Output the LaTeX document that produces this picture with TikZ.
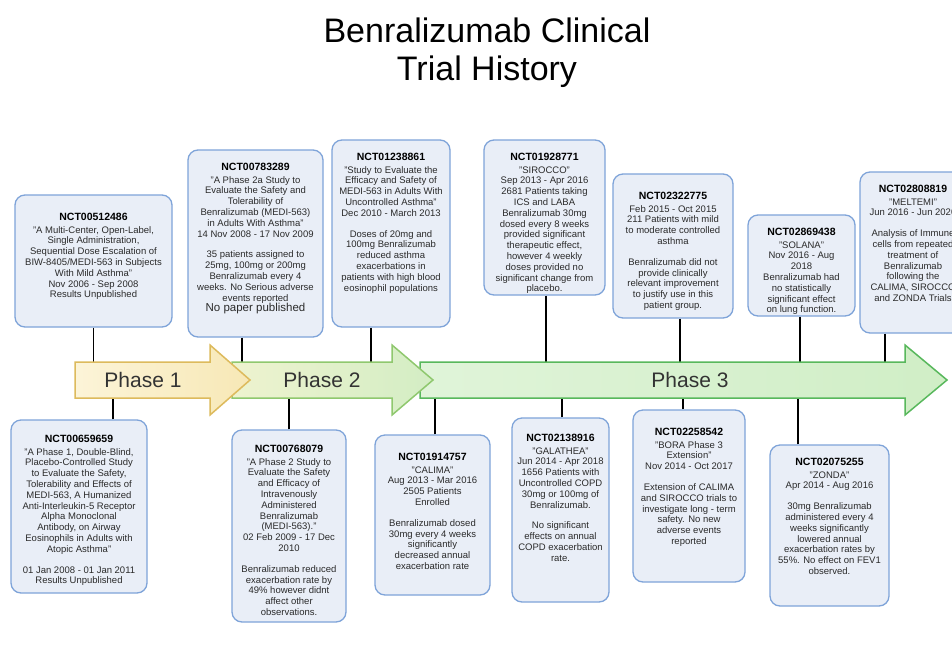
\documentclass[tikz,border=0pt]{standalone}
\usepackage{fontspec}
\setmainfont{Liberation Sans}

\definecolor{boxfill}{HTML}{E9EEF7}
\definecolor{boxline}{HTML}{7FA4D9}
\definecolor{bodytext}{HTML}{2A2A2A}
\definecolor{phasetext}{HTML}{333333}
\definecolor{oneline}{HTML}{DDBA5C}
\definecolor{onea}{HTML}{FCF4D8}
\definecolor{oneb}{HTML}{F7E8B6}
\definecolor{twoline}{HTML}{8FC86E}
\definecolor{twoa}{HTML}{EEF3CF}
\definecolor{twob}{HTML}{D3EDC4}
\definecolor{threeline}{HTML}{58B85C}
\definecolor{threea}{HTML}{E0F4D9}
\definecolor{threeb}{HTML}{D0EEC6}

\tikzset{
  trialbox/.style={draw=boxline, fill=boxfill, line width=1.3pt, rounded corners=10pt, inner sep=0pt},
  trialtext/.style={anchor=north, yshift=-14pt, inner sep=0pt, align=center, text=bodytext,
    font=\fontsize{9.5}{10.8}\selectfont},
  link/.style={line width=1.3pt, black},
  phaseone/.style={draw=oneline, line width=1.5pt, left color=onea, right color=oneb},
  phasetwo/.style={draw=twoline, line width=1.5pt, left color=twoa, right color=twob},
  phasethree/.style={draw=threeline, line width=1.5pt, left color=threea, right color=threeb},
  phaselabel/.style={font=\fontsize{21}{25}\selectfont, text=phasetext}
}
\newcommand{\nct}[1]{{\fontsize{10.5}{12}\selectfont\bfseries\color{black}#1}\\[1.5pt]}

\begin{document}
\begin{tikzpicture}[x=1pt, y=-1pt]
\useasboundingbox[fill=white] (0,0) rectangle (952,648);

\node[font=\fontsize{34}{38}\selectfont, align=center] (title) at (487,53)
  {Benralizumab Clinical\\Trial History};

\coordinate (bodytop) at (0,362);
\coordinate (bodybot) at (0,398);

% trials above the timeline
\node[trialbox, minimum width=157pt, minimum height=132pt] (t1) at (93.5,261) {};
\node[trialtext, yshift=-5pt] (t1-txt) at (t1.north) {\nct{NCT00512486}
  "A Multi-Center, Open-Label,\\ Single Administration,\\ Sequential Dose Escalation of\\
  BIW-8405/MEDI-563 in Subjects\\ With Mild Asthma"\\ Nov 2006 - Sep 2008\\ Results Unpublished};

\node[trialbox, minimum width=135pt, minimum height=187pt] (t2) at (255.5,243.5) {};
\node[trialtext] (t2-txt) at (t2.north) {\nct{NCT00783289}
  "A Phase 2a Study to\\ Evaluate the Safety and\\ Tolerability of\\ Benralizumab (MEDI-563)\\
  in Adults With Asthma"\\ 14 Nov 2008 - 17 Nov 2009\\[10pt]
  35 patients assigned to\\ 25mg, 100mg or 200mg\\ Benralizumab every 4\\
  weeks. No Serious adverse\\ events reported\\
  {\fontsize{11.5}{13}\selectfont No paper published}};

\node[trialbox, minimum width=118pt, minimum height=187pt] (t3) at (391,233.5) {};
\node[trialtext] (t3-txt) at (t3.north) {\nct{NCT01238861}
  "Study to Evaluate the\\ Efficacy and Safety of\\ MEDI-563 in Adults With\\
  Uncontrolled Asthma"\\ Dec 2010 - March 2013\\[10pt]
  Doses of 20mg and\\ 100mg Benralizumab\\ reduced asthma\\ exacerbations in\\
  patients with high blood\\ eosinophil populations};

\node[trialbox, minimum width=121pt, minimum height=155pt] (t4) at (544.5,217.5) {};
\node[trialtext] (t4-txt) at (t4.north) {\nct{NCT01928771}
  "SIROCCO"\\ Sep 2013 - Apr 2016\\ 2681 Patients taking\\ ICS and LABA\\
  Benralizumab 30mg\\ dosed every 8 weeks\\ provided significant\\ therapeutic effect,\\
  however 4 weekly\\ doses provided no\\ significant change from\\ placebo.};

\node[trialbox, minimum width=120pt, minimum height=144pt] (t5) at (673,246) {};
\node[trialtext, yshift=-5pt] (t5-txt) at (t5.north) {\nct{NCT02322775}
  Feb 2015 - Oct 2015\\ 211 Patients with mild\\ to moderate controlled\\ asthma\\[10pt]
  Benralizumab did not\\ provide clinically\\ relevant improvement\\ to justify use in this\\
  patient group.};

\node[trialbox, minimum width=107pt, minimum height=101pt] (t6) at (801.5,265.5) {};
\node[trialtext] (t6-txt) at (t6.north) {\nct{NCT02869438}
  "SOLANA"\\ Nov 2016 - Aug\\ 2018\\ Benralizumab had\\ no statistically\\
  significant effect\\ on lung function.};

\node[trialbox, minimum width=106pt, minimum height=161pt] (t7) at (913,252.5) {};
\node[trialtext] (t7-txt) at (t7.north) {\nct{NCT02808819}
  "MELTEMI"\\ Jun 2016 - Jun 2020\\[10pt]
  Analysis of Immune\\ cells from repeated\\ treatment of\\ Benralizumab\\ following the\\
  CALIMA, SIROCCO\\ and ZONDA Trials};

% trials below the timeline
\node[trialbox, minimum width=136pt, minimum height=173pt] (b1) at (79,506.5) {};
\node[trialtext, yshift=-2pt] (b1-txt) at (b1.north) {\nct{NCT00659659}
  "A Phase 1, Double-Blind,\\ Placebo-Controlled Study\\ to Evaluate the Safety,\\
  Tolerability and Effects of\\ MEDI-563, A Humanized\\ Anti-Interleukin-5 Receptor\\
  Alpha Monoclonal\\ Antibody, on Airway\\ Eosinophils in Adults with\\ Atopic Asthma"\\[10pt]
  01 Jan 2008 - 01 Jan 2011\\ Results Unpublished};

\node[trialbox, minimum width=114pt, minimum height=192pt] (b2) at (289,526) {};
\node[trialtext, yshift=-2pt] (b2-txt) at (b2.north) {\nct{NCT00768079}
  "A Phase 2 Study to\\ Evaluate the Safety\\ and Efficacy of\\ Intravenously\\
  Administered\\ Benralizumab\\ (MEDI-563)."\\ 02 Feb 2009 - 17 Dec\\ 2010\\[10pt]
  Benralizumab reduced\\ exacerbation rate by\\ 49\% however didnt\\ affect other\\ observations.};

\node[trialbox, minimum width=115pt, minimum height=160pt] (b3) at (432.5,515) {};
\node[trialtext, yshift=-5pt] (b3-txt) at (b3.north) {\nct{NCT01914757}
  "CALIMA"\\ Aug 2013 - Mar 2016\\ 2505 Patients\\ Enrolled\\[10pt]
  Benralizumab dosed\\ 30mg every 4 weeks\\ significantly\\ decreased annual\\ exacerbation rate};

\node[trialbox, minimum width=97pt, minimum height=184pt] (b4) at (560.5,510) {};
\node[trialtext, yshift=-3pt] (b4-txt) at (b4.north) {\nct{NCT02138916}
  "GALATHEA"\\ Jun 2014 - Apr 2018\\ 1656 Patients with\\ Uncontrolled COPD\\
  30mg or 100mg of\\ Benralizumab.\\[10pt]
  No significant\\ effects on annual\\ COPD exacerbation\\ rate.};

\node[trialbox, minimum width=112pt, minimum height=172pt] (b5) at (689,496) {};
\node[trialtext, yshift=-5pt] (b5-txt) at (b5.north) {\nct{NCT02258542}
  "BORA Phase 3\\ Extension"\\ Nov 2014 - Oct 2017\\[10pt]
  Extension of CALIMA\\ and SIROCCO trials to\\ investigate long - term\\
  safety. No new\\ adverse events\\ reported};

\node[trialbox, minimum width=119pt, minimum height=161pt] (b6) at (829.5,525.5) {};
\node[trialtext] (b6-txt) at (b6.north) {\nct{NCT02075255}
  "ZONDA"\\ Apr 2014 - Aug 2016\\[10pt]
  30mg Benralizumab\\ administered every 4\\ weeks significantly\\ lowered annual\\
  exacerbation rates by\\ 55\%. No effect on FEV1\\ observed.};

% connectors to the timeline
\foreach \b/\dx in {t1/0, t2/-13.5, t3/-20, t4/1.5, t5/7, t6/-1.5, t7/-28}
  \draw[link] (\b.south) ++(\dx,0) coordinate (\b-c) -- (\b-c |- bodytop);
\foreach \b/\dx in {b1/34, b2/0, b3/2.5, b4/1.5, b5/-6, b6/-31.5}
  \draw[link] (\b.north) ++(\dx,0) coordinate (\b-c) -- (\b-c |- bodybot);

% phase arrows, last one first
\draw[phasethree] (420,362) -- (905,362) -- (905,345) -- (947,380) -- (905,415)
  -- (905,398) -- (420,398) -- cycle;
\draw[phasetwo] (232,362) -- (392,362) -- (392,345) -- (433,380) -- (392,415)
  -- (392,398) -- (232,398) -- cycle;
\draw[phaseone] (75,362) -- (210,362) -- (210,345) -- (250,380) -- (210,415)
  -- (210,398) -- (75,398) -- cycle;

\node[phaselabel] (ph1) at (143,380) {Phase 1};
\node[phaselabel] (ph2) at (322,380) {Phase 2};
\node[phaselabel] (ph3) at (690,380) {Phase 3};
\end{tikzpicture}
\end{document}
